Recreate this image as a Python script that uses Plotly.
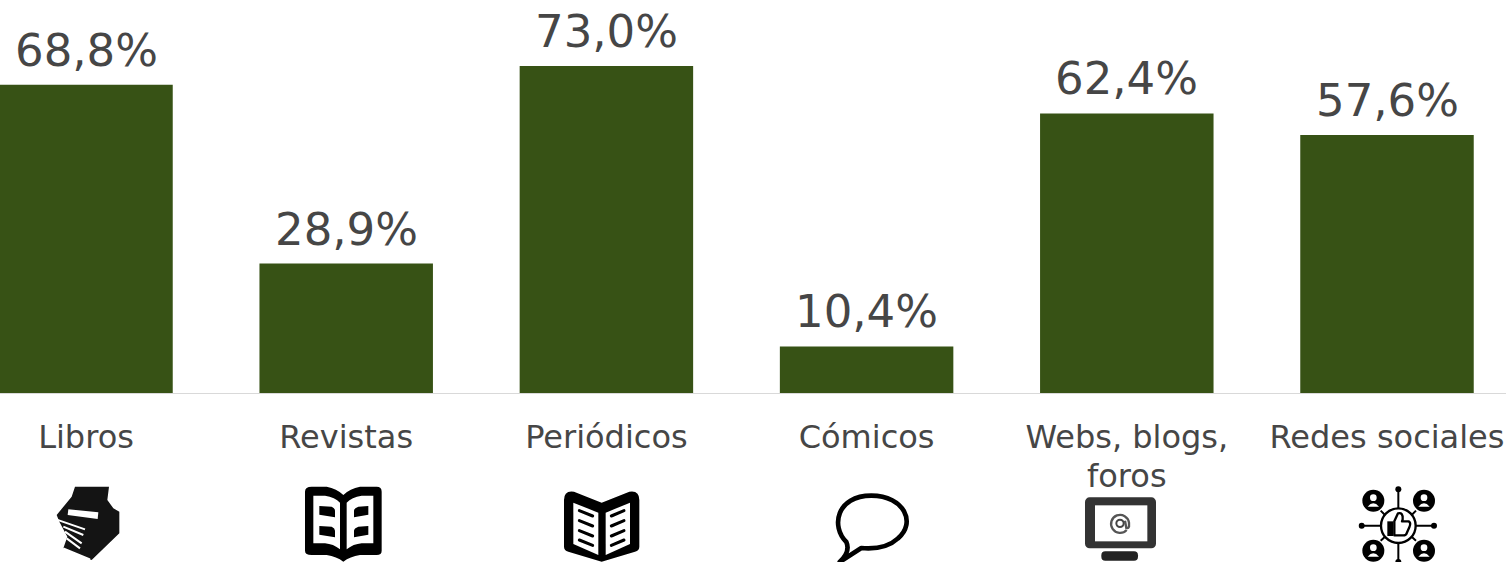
import base64
import plotly.graph_objects as go

categories = ["Libros", "Revistas", "Periódicos", "Cómicos", "Webs, blogs,", "Redes sociales"]
second_lines = ["", "", "", "", "foros", ""]
values = [68.8, 28.9, 73.0, 10.4, 62.4, 57.6]
labels = ["68,8%", "28,9%", "73,0%", "10,4%", "62,4%", "57,6%"]

W, H = 1506, 562
BASE = 393
FONT = "DejaVu Sans"
TXT = "#464646"

ICON_BOOKS = '''
<path fill="#141414" d="M135 20L237 20L232 60L250 85L268 95L268 160L185 240L100 205L112 170L88 125L80 105L125 50Z"/>
<path fill="#fff" d="M115 88L205 97L203 117L113 105Z"/>
<g stroke="#fff" stroke-width="6" fill="none">
<path d="M78 118L165 148M100 140L160 165M105 155L155 190M110 175L150 205M100 205L180 238"/>
</g>'''

ICON_BOOK1 = '''
<path fill="#000" d="M825 35Q825 20 845 20L890 20Q920 25 940 45Q960 25 990 20L1040 20Q1055 20 1055 35L1055 212Q1055 225 1040 225L990 225Q960 230 940 245Q920 230 890 225L845 225Q825 225 825 212Z"/>
<path fill="#fff" d="M850 47L885 47Q915 52 930 68L930 208Q910 192 885 190L850 190Z"/>
<path fill="#fff" d="M1030 47L995 47Q965 52 950 68L950 208Q970 192 995 190L1030 190Z"/>
<path fill="#000" d="M868 78L905 80Q915 85 915 92L915 112L868 104ZM868 138L905 140Q915 145 915 152L915 172L868 164Z"/>
<path fill="#000" d="M1015 78L985 80Q972 85 972 92L972 112L1015 104ZM1015 138L985 140Q972 145 972 152L972 172L1015 164Z"/>'''

ICON_BOOK2 = '''
<path fill="#000" d="M72 60Q72 30 102 35L185 68L268 35Q298 30 298 60L298 200Q298 212 285 215L185 245L85 215Q72 212 72 200Z"/>
<path fill="#fff" d="M100 68L175 98L175 225L100 192Z"/>
<path fill="#fff" d="M270 68L197 98L197 225L270 192Z"/>
<g stroke="#000" stroke-width="9" stroke-linecap="round" fill="none">
<path d="M118 92L158 108M118 122L158 138M118 152L158 168M118 180L158 196"/>
<path d="M252 92L214 108M252 122L214 138M252 152L214 168M252 180L214 196"/>
</g>'''

ICON_BUBBLE = '''
<path fill="#fff" stroke="#000" stroke-width="14" stroke-linejoin="round" d="M925 186C878 140 895 47 1000 47C1100 47 1135 130 1080 175C1050 203 1005 207 970 204L905 246Q938 215 925 186Z"/>'''

ICON_MONITOR = '''
<rect x="75" y="52" width="213" height="153" rx="14" fill="#333"/>
<rect x="105" y="76" width="157" height="108" fill="#fff"/>
<path d="M200 150A27 27 0 1 1 207 128L207 140Q205 146 199 144L195 122" fill="none" stroke="#555" stroke-width="7"/>
<circle cx="180" cy="130" r="11" fill="none" stroke="#444" stroke-width="6"/>
<rect x="124" y="214" width="110" height="28" rx="12" fill="#222"/>'''

persons = ""
for cx, cy in [(940, 62), (1092, 62), (940, 212), (1092, 212)]:
    persons += (f'<circle cx="{cx}" cy="{cy}" r="33" fill="#000"/>'
                f'<circle cx="{cx}" cy="{cy-9}" r="10" fill="#fff"/>'
                f'<path d="M{cx-17} {cy+18}Q{cx} {cy-2} {cx+17} {cy+18}Z" fill="#fff"/>')
ICON_SOCIAL = f'''
<g stroke="#000" stroke-width="6" fill="none">
<path d="M1015 28L1015 85M1015 190L1015 246M905 137L963 137M1068 137L1122 137M962 92L975 105M1068 92L1055 105M962 182L975 170M1068 182L1055 170"/>
<circle cx="1015" cy="137" r="52" stroke-width="7"/>
</g>
<circle cx="1015" cy="28" r="9"/><circle cx="905" cy="137" r="9"/><circle cx="1122" cy="137" r="9"/><circle cx="1015" cy="246" r="9"/>
{persons}
<rect x="982" y="124" width="18" height="44"/>
<path fill="#fff" stroke="#000" stroke-width="7" stroke-linejoin="round" d="M1003 124L1014 100Q1030 96 1028 118L1026 124L1046 124Q1054 128 1048 142L1040 160Q1038 166 1030 166L1003 166Z"/>
'''

ICONS = [
    (30, 70, 210, ICON_BOOKS),
    (30, 815, 250, ICON_BOOK1),
    (540, 60, 250, ICON_BOOK2),
    (538, 880, 240, ICON_BUBBLE),
    (1060, 65, 235, ICON_MONITOR),
    (1060, 895, 240, ICON_SOCIAL),
]

images = []
for ox, zx, zw, body in ICONS:
    svg = (f'<svg xmlns="http://www.w3.org/2000/svg" width="{zw}" height="246" '
           f'viewBox="{zx} 0 {zw} 246">{body}</svg>')
    uri = "data:image/svg+xml;base64," + base64.b64encode(svg.encode()).decode()
    images.append(dict(source=uri, xref="paper", yref="paper",
                       x=(ox + zx / 3) / W, y=(BASE - 480) / BASE,
                       sizex=(zw / 3) / W, sizey=82 / BASE,
                       xanchor="left", yanchor="top", sizing="stretch", layer="above"))

annotations = [dict(x=i, y=v, xref="x", yref="y", text=t, showarrow=False,
                    xanchor="center", yanchor="bottom", yshift=6,
                    font=dict(family=FONT, size=45, color=TXT))
               for i, (v, t) in enumerate(zip(values, labels))]
annotations += [dict(x=i, y=-(476 - BASE) / BASE, xref="x", yref="paper", text=t, showarrow=False,
                     xanchor="center", yanchor="middle",
                     font=dict(family=FONT, size=32, color=TXT))
                for i, t in enumerate(second_lines) if t]

fig = go.Figure(go.Bar(
    x=list(range(len(categories))), y=values,
    marker=dict(color="#375215", line=dict(width=0)),
    width=0.6667, hoverinfo="skip",
))
fig.update_layout(
    width=W, height=H, autosize=False,
    margin=dict(l=0, r=0, t=0, b=H - BASE, pad=0),
    paper_bgcolor="white", plot_bgcolor="white",
    showlegend=False, images=images, annotations=annotations,
    xaxis=dict(range=[-86 / 260.2, (W - 86) / 260.2], tickmode="array",
               tickvals=list(range(len(categories))), ticktext=categories,
               tickangle=0, showgrid=False, zeroline=False,
               showline=True, linecolor="#d9d9d9", linewidth=1,
               ticks="outside", ticklen=16, tickcolor="rgba(0,0,0,0)",
               tickfont=dict(family=FONT, size=32, color=TXT)),
    yaxis=dict(range=[0, BASE / 4.48], visible=False, showgrid=False, zeroline=False),
)
fig.write_html("out.html", config=dict(displayModeBar=False), post_script="document.body.style.margin='0';")
